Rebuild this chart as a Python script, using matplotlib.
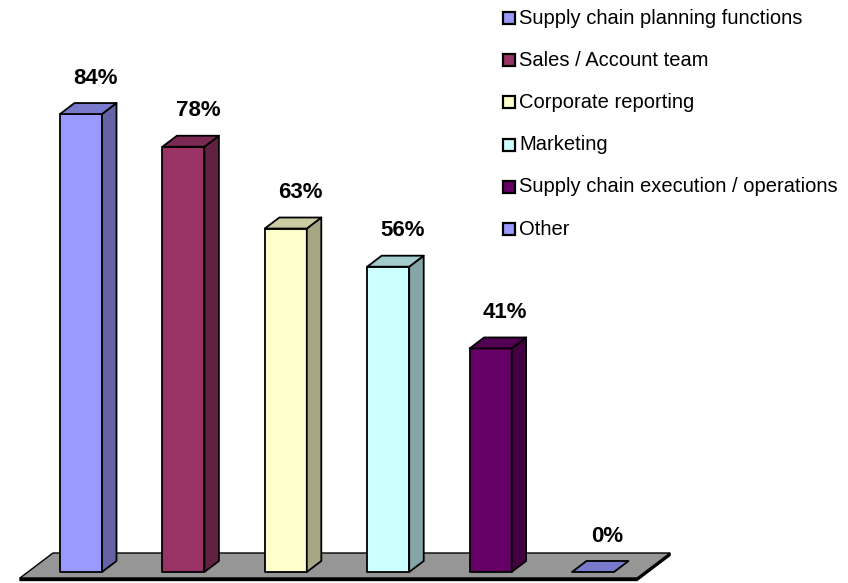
import matplotlib
matplotlib.use("Agg")
import matplotlib.pyplot as plt
from matplotlib.patches import Polygon, Rectangle
import numpy as np

# ---- data -------------------------------------------------------------
categories = [
    "Supply chain planning functions",
    "Sales / Account team",
    "Corporate reporting",
    "Marketing",
    "Supply chain execution / operations",
    "Other",
]
values = [84, 78, 63, 56, 41, 0]
value_labels = ["84%", "78%", "63%", "56%", "41%", "0%"]
colors = ["#9999FF", "#993366", "#FFFFCC", "#CCFFFF", "#660066", "#9999FF"]

# ---- figure / axes ----------------------------------------------------
W, H, DPI = 848, 583, 100
fig = plt.figure(figsize=(W / DPI, H / DPI), dpi=DPI)
ax = fig.add_axes([0, 0, 1, 1])
ax.set_axis_off()

# pixel layout of the plotting area
x0_px, pitch_px = 81.0, 102.4       # first bar centre, bar spacing
y0_px, per_pct_px = 572.0, 5.452    # baseline, pixels per percent
ax.set_xlim(-x0_px / pitch_px, (W - x0_px) / pitch_px)
ax.set_ylim(-(H - y0_px) / per_pct_px, y0_px / per_pct_px)

hw = 21.0 / pitch_px                # half width of a bar front
ddx = 14.5 / pitch_px               # depth offset (x)
ddy = 11.0 / per_pct_px             # depth offset (y)


def shade(c, f):
    r, g, b = matplotlib.colors.to_rgb(c)
    return (r * f, g * f, b * f)


n = len(values)
xs = np.arange(n)

# ---- floor -------------------------------------------------------------
f_left, f_right = -0.596, n - 1 + 0.43
f_dx = 33.0 / pitch_px
f_top = 19.0 / per_pct_px
f_bot = -6.0 / per_pct_px
thick = 2.5 / per_pct_px
floor_pts = [(f_left, f_bot), (f_right, f_bot),
             (f_right + f_dx, f_top), (f_left + f_dx, f_top)]
# floor thickness (dark lower rim)
rim = [(f_left, f_bot - thick), (f_right, f_bot - thick),
       (f_right + f_dx, f_top - thick), (f_right + f_dx, f_top),
       (f_right, f_bot), (f_left, f_bot)]
ax.add_patch(Polygon(rim, closed=True, facecolor="black", edgecolor="black",
                     lw=1.0, zorder=1))
ax.add_patch(Polygon(floor_pts, closed=True, facecolor="#969696",
                     edgecolor="black", lw=1.0, zorder=1.5))

# ---- 3D bars -------------------------------------------------------------
edge_kw = dict(edgecolor="black", lw=1.3, joinstyle="round")
for x, v, c in zip(xs, values, colors):
    if v > 0:
        ax.bar(x, v, width=2 * hw, color=c, zorder=3, **edge_kw)
        side = [(x + hw, 0), (x + hw + ddx, ddy),
                (x + hw + ddx, v + ddy), (x + hw, v)]
        ax.add_patch(Polygon(side, closed=True, facecolor=shade(c, 0.65),
                             zorder=3, **edge_kw))
    top = [(x - hw, v), (x + hw, v), (x + hw + ddx, v + ddy),
           (x - hw + ddx, v + ddy)]
    ax.add_patch(Polygon(top, closed=True, facecolor=shade(c, 0.8),
                         zorder=3, **edge_kw))

# ---- value labels ----------------------------------------------------------
label_off = 36.0 / per_pct_px
for x, v, lab in zip(xs, values, value_labels):
    ax.text(x + ddx, v + label_off, lab, ha="center", va="center",
            fontsize=16, fontweight="bold", family="Liberation Sans",
            color="black", zorder=5)

# ---- legend ----------------------------------------------------------------
leg_x_px, leg_y_px, leg_step_px = 503.0, 18.0, 42.2
box_px = 12.0
for i, (name, c) in enumerate(zip(categories, colors)):
    cy = leg_y_px + i * leg_step_px
    fig.patches.append(Rectangle(
        (leg_x_px / W, 1 - (cy + box_px / 2) / H), box_px / W, box_px / H,
        transform=fig.transFigure, facecolor=c, edgecolor="black", lw=1.6))
    fig.text((leg_x_px + box_px + 4) / W, 1 - cy / H, name,
             ha="left", va="center", fontsize=14.5,
             family="Liberation Sans", color="black")

fig.savefig("out.png", dpi=DPI)
